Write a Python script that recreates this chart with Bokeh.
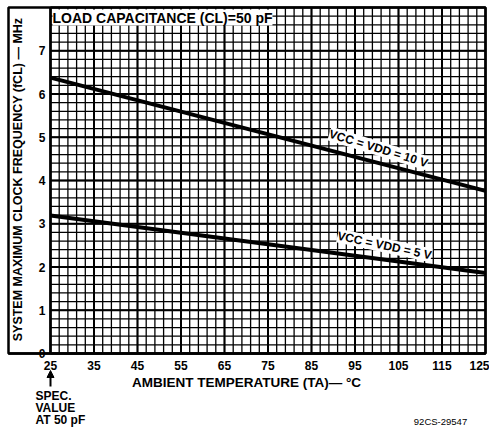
from bokeh.plotting import figure
from bokeh.models import (FixedTicker, Label, BoxAnnotation, Arrow, NormalHead,
                          Range1d, LinearAxis)
from bokeh.embed import file_html
from bokeh.resources import INLINE
import math

# ---- data ----
temps = [25, 125]                 # ambient temperature, degC
freq_10v = [6.38, 3.76]           # MHz, VCC = VDD = 10 V
freq_5v = [3.19, 1.86]            # MHz, VCC = VDD = 5 V
x_ticks = [25, 35, 45, 55, 65, 75, 85, 95, 105, 115, 125]
x_minor = list(range(25, 126, 2))
y_ticks = [0, 1, 2, 3, 4, 5, 6, 7]
y_major = [0, 1, 2, 3, 4, 5, 6, 7, 8]
y_minor = [round(i * 0.2, 1) for i in range(41)]
X_MIN, X_MAX = 25, 125
Y_MIN, Y_MAX = 0, 8

FONT = "Liberation Sans"
W, H = 489, 428
# pixel layout of the plotting area inside the canvas
PX_L, PX_R, PY_T, PY_B = 50, 485, 7, 353
sx = (PX_R - PX_L) / (X_MAX - X_MIN)
sy = (PY_B - PY_T) / (Y_MAX - Y_MIN)


def X(px):
    return X_MIN + (px - PX_L) / sx


def Y(py):
    return Y_MIN + (PY_B - py) / sy


p = figure(width=W, height=H, output_backend="svg", toolbar_location=None,
           x_range=Range1d(X(0), X(W)), y_range=Range1d(Y(H), Y(0)),
           x_axis_location=None, y_axis_location=None,
           min_border=0)
p.background_fill_color = "white"
p.border_fill_color = "white"
p.outline_line_color = None
p.xgrid.visible = False
p.ygrid.visible = False

# grid (minor then major)
p.segment(x0=x_minor, y0=[Y_MIN] * len(x_minor), x1=x_minor, y1=[Y_MAX] * len(x_minor),
          line_color="black", line_width=1.3)
p.segment(x0=[X_MIN] * len(y_minor), y0=y_minor, x1=[X_MAX] * len(y_minor), y1=y_minor,
          line_color="black", line_width=1.3)
p.segment(x0=x_ticks, y0=[Y_MIN] * len(x_ticks), x1=x_ticks, y1=[Y_MAX] * len(x_ticks),
          line_color="black", line_width=2)
p.segment(x0=[X_MIN] * len(y_major), y0=y_major, x1=[X_MAX] * len(y_major), y1=y_major,
          line_color="black", line_width=2)

# outer box (encloses the y title area too)
p.add_layout(BoxAnnotation(left=X(8), right=X_MAX, bottom=Y_MIN, top=Y_MAX,
                           fill_alpha=0, line_color="black", line_alpha=1,
                           line_width=2.5))

# axes
xax = LinearAxis(fixed_location=Y_MIN, ticker=FixedTicker(ticks=x_ticks),
                 bounds=(X(8), X_MAX))
yax = LinearAxis(fixed_location=X_MIN, ticker=FixedTicker(ticks=y_ticks),
                 bounds=(Y_MIN, Y_MAX))
for ax in (xax, yax):
    ax.axis_line_color = "black"
    ax.axis_line_width = 2.5
    ax.major_tick_line_color = None
    ax.minor_tick_line_color = None
    ax.major_tick_in = 0
    ax.major_tick_out = 0
    ax.major_label_text_font = FONT
    ax.major_label_text_font_style = "bold"
    ax.major_label_text_font_size = "12px"
    ax.major_label_text_color = "black"
xax.major_label_standoff = 7
yax.major_label_standoff = 5
p.add_layout(xax, "below")
p.add_layout(yax, "left")

# curves
p.line(temps, freq_10v, line_color="black", line_width=4)
p.line(temps, freq_5v, line_color="black", line_width=4)


def lab(x, y, text, size="12px", style="bold", align="left", baseline="top",
        angle=0.0, bg=None):
    l = Label(x=x, y=y, text=text, text_font=FONT, text_font_size=size,
              text_font_style=style, text_align=align, text_baseline=baseline,
              text_color="black", angle=angle)
    if bg:
        l.background_fill_color = bg
    p.add_layout(l)
    return l


lab(X(52), Y(9), "LOAD CAPACITANCE (CL)=50 pF", size="14px", bg="white")
lab(X(378), Y(148), "VCC = VDD = 10 V", size="12px", align="center",
    baseline="middle", angle=math.radians(-17), bg="white")
lab(X(384), Y(245), "VCC = VDD = 5 V", size="12px", align="center",
    baseline="middle", angle=math.radians(-12), bg="white")

lab(X(17.5), Y(179), "SYSTEM MAXIMUM CLOCK FREQUENCY (fCL) \u2014 MHz", size="12.5px",
    align="center", baseline="middle", angle=math.pi / 2)
lab(X(246), Y(382), "AMBIENT TEMPERATURE (TA)\u2014 \u00b0C", size="13.5px",
    align="center", baseline="middle")
lab(X(35), Y(388), "SPEC.")
lab(X(35), Y(400), "VALUE")
lab(X(35), Y(412), "AT 50 pF")
lab(X(440), Y(421), "92CS-29547", size="9.5px", style="normal", align="center",
    baseline="middle")

p.add_layout(Arrow(end=NormalHead(size=7, fill_color="black", line_color="black"),
                   x_start=X_MIN, y_start=Y(386), x_end=X_MIN, y_end=Y(370),
                   line_color="black", line_width=2))

open("out.html", "w").write(file_html(p, INLINE))
